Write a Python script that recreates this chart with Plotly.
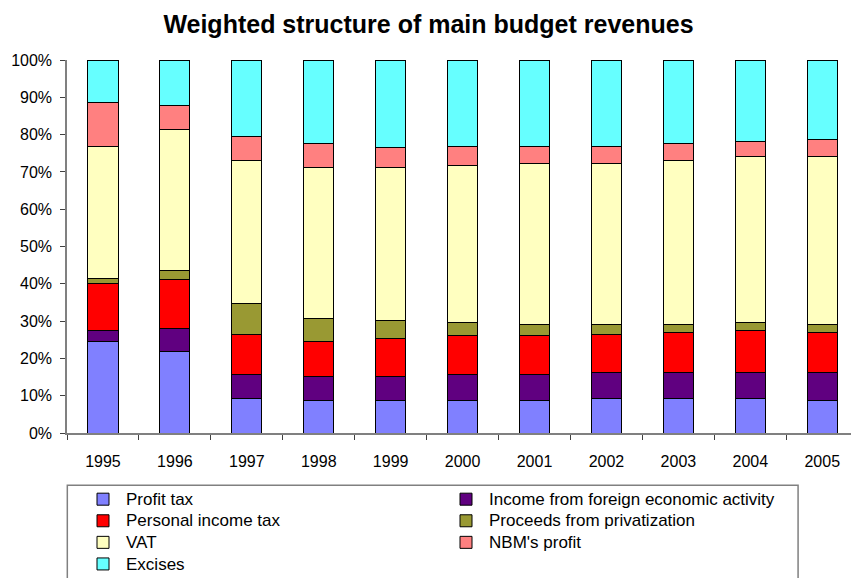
import plotly.graph_objects as go

years = ["1995", "1996", "1997", "1998", "1999", "2000",
         "2001", "2002", "2003", "2004", "2005"]

# Shares of main budget revenues, % of total (stacked bottom to top)
profit_tax = [24.4, 21.8, 9.2, 8.8, 8.8, 8.8, 8.8, 9.2, 9.2, 9.2, 8.8]
foreign_activity = [3.0, 6.1, 6.4, 6.4, 6.4, 6.8, 6.8, 6.9, 6.9, 6.9, 7.3]
personal_income_tax = [12.7, 13.3, 10.9, 9.2, 10.1, 10.6, 10.6, 10.4, 10.9, 11.3, 10.9]
privatization = [1.2, 2.4, 8.1, 6.2, 4.8, 3.4, 3.0, 2.7, 2.2, 2.2, 2.2]
vat = [35.6, 37.9, 38.5, 40.7, 41.2, 42.2, 43.0, 43.0, 43.9, 44.4, 45.0]
nbm_profit = [11.8, 6.4, 6.3, 6.4, 5.3, 5.1, 4.7, 4.7, 4.4, 4.1, 4.5]
excises = [11.3, 12.1, 20.6, 22.3, 23.4, 23.1, 23.1, 23.1, 22.5, 21.9, 21.3]

pct_ticks = list(range(0, 101, 10))
pct_labels = [f"{v}%" for v in pct_ticks]

series = [
    ("Profit tax", profit_tax, "#8080FF"),
    ("Income from foreign economic activity", foreign_activity, "#600080"),
    ("Personal income tax", personal_income_tax, "#FF0000"),
    ("Proceeds from privatization", privatization, "#999933"),
    ("VAT", vat, "#FFFFC0"),
    ("NBM's profit", nbm_profit, "#FF8080"),
    ("Excises", excises, "#66FFFF"),
]

fig = go.Figure()
for name, values, color in series:
    fig.add_trace(go.Bar(
        x=years, y=values,
        # larger glyphs in the legend while keeping its compact row pitch
        name=f'<span style="font-size:17px">{name}</span>',
        hovertemplate=f"{name}<br>%{{x}}: %{{y:.1f}}%<extra></extra>",
        marker=dict(color=color, line=dict(color="black", width=1)),
        width=0.42,
    ))

FONT = "Liberation Sans, Arial, sans-serif"

fig.update_layout(
    width=851, height=578,
    barmode="stack",
    paper_bgcolor="white", plot_bgcolor="white",
    margin=dict(l=67, r=0, t=60, b=145),
    font=dict(family=FONT, size=16, color="black"),
    title=dict(
        text="<b>Weighted structure of main budget revenues</b>",
        x=0.5035, xanchor="center", y=0.958, yanchor="middle",
        font=dict(family=FONT, size=25, color="black"),
    ),
    xaxis=dict(
        type="category", range=[-0.5, 10.4],
        showline=True, linecolor="#808080", linewidth=1.5,
        ticks="outside", ticklen=5, tickcolor="#404040", tickwidth=1,
        tickson="boundaries", showgrid=False,
        ticklabelstandoff=13,
        tickfont=dict(size=16),
    ),
    yaxis=dict(
        range=[0, 100], tickmode="array",
        tickvals=pct_ticks, ticktext=pct_labels,
        showline=True, linecolor="#808080", linewidth=1.5,
        ticks="outside", ticklen=5, tickcolor="#404040", tickwidth=1,
        showgrid=False, zeroline=False,
        ticklabelstandoff=5,
        tickfont=dict(size=16),
    ),
    legend=dict(
        orientation="h", x=0.0166, xanchor="left",
        yref="container", y=0.1637, yanchor="top",
        entrywidth=312, entrywidthmode="pixels", itemwidth=36,
        font=dict(size=14.3), borderwidth=0, bgcolor="rgba(0,0,0,0)",
        traceorder="normal", itemclick=False,
    ),
    shapes=[dict(
        type="rect", xref="paper", yref="paper",
        x0=0.0004, x1=0.9325, y0=-0.1403, y1=-0.6,
        line=dict(color="#808080", width=1.5), fillcolor="rgba(0,0,0,0)",
        layer="below",
    )],
)

fig.write_html("out.html")
